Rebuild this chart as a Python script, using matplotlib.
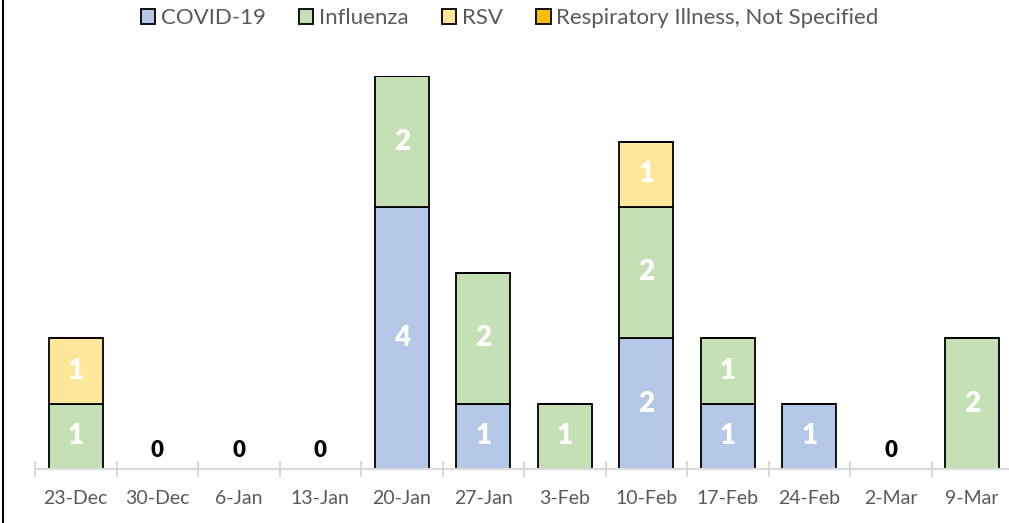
import numpy as np
import matplotlib.pyplot as plt
from matplotlib.patches import Patch

weeks = ["23-Dec", "30-Dec", "6-Jan", "13-Jan", "20-Jan", "27-Jan",
         "3-Feb", "10-Feb", "17-Feb", "24-Feb", "2-Mar", "9-Mar"]
covid = [0, 0, 0, 0, 4, 1, 0, 2, 1, 1, 0, 0]
flu = [1, 0, 0, 0, 2, 2, 1, 2, 1, 0, 0, 2]
rsv = [1, 0, 0, 0, 0, 0, 0, 1, 0, 0, 0, 0]
resp = [0, 0, 0, 0, 0, 0, 0, 0, 0, 0, 0, 0]

series = [("COVID-19", covid, "#B4C7E7"),
          ("Influenza", flu, "#C5E0B4"),
          ("RSV", rsv, "#FFE699"),
          ("Respiratory Illness, Not Specified", resp, "#FFC000")]

plt.rcParams['font.family'] = ['Lato', 'DejaVu Sans']

fig = plt.figure(figsize=(10.09, 5.23), dpi=100)
# axes box in pixels: left 35, bottom 469 (from top), spans 12 categories
W, H = 1009, 523
ax = fig.add_axes([35 / W, (H - 469) / H, 978 / W, (469 - 76) / H])

x = np.arange(len(weeks))
bottom = np.zeros(len(weeks))
for name, vals, col in series:
    vals = np.array(vals)
    ax.bar(x, vals, 0.66, bottom=bottom, color=col, edgecolor="black",
           linewidth=1.3, label=name)
    for xi, v, b in zip(x, vals, bottom):
        if v > 0:
            ax.text(xi, b + v / 2, str(v), ha="center", va="center",
                    color="white", fontsize=20, fontweight="heavy")
    bottom += vals

totals = bottom
for xi, t in zip(x, totals):
    if t == 0:
        ax.text(xi, 0.28, "0", ha="center", va="center", color="black",
                fontsize=16, fontweight="heavy")

ax.set_xlim(-0.5, len(weeks) - 0.5)
ax.set_ylim(0, 6)
ax.set_yticks([])
for s in ["top", "right", "left"]:
    ax.spines[s].set_visible(False)
ax.spines["bottom"].set_color("#D9D9D9")
ax.spines["bottom"].set_linewidth(1.5)

ax.set_xticks(x)
ax.set_xticklabels(weeks, color="#595959", fontsize=14)
ax.tick_params(axis="x", which="major", length=0, pad=15)
ax.set_xticks(np.arange(-0.5, len(weeks), 1), minor=True)
ax.tick_params(axis="x", which="minor", length=12, width=1.5,
               color="#D9D9D9", direction="inout")

handles = [Patch(facecolor=c, edgecolor="black", linewidth=1.3, label=n)
           for n, _, c in series]
fig.legend(handles=handles, loc="center", bbox_to_anchor=(0.505, 1 - 18 / H),
           ncol=4, frameon=False, fontsize=16, handlelength=0.65,
           handleheight=0.65, handletextpad=0.25, columnspacing=1.5,
           labelcolor="#595959")

# left border line of the chart frame
fig.add_artist(plt.Line2D([3 / W, 3 / W], [0, 1], color="black", linewidth=1.5))

fig.savefig("out.png", dpi=100)
